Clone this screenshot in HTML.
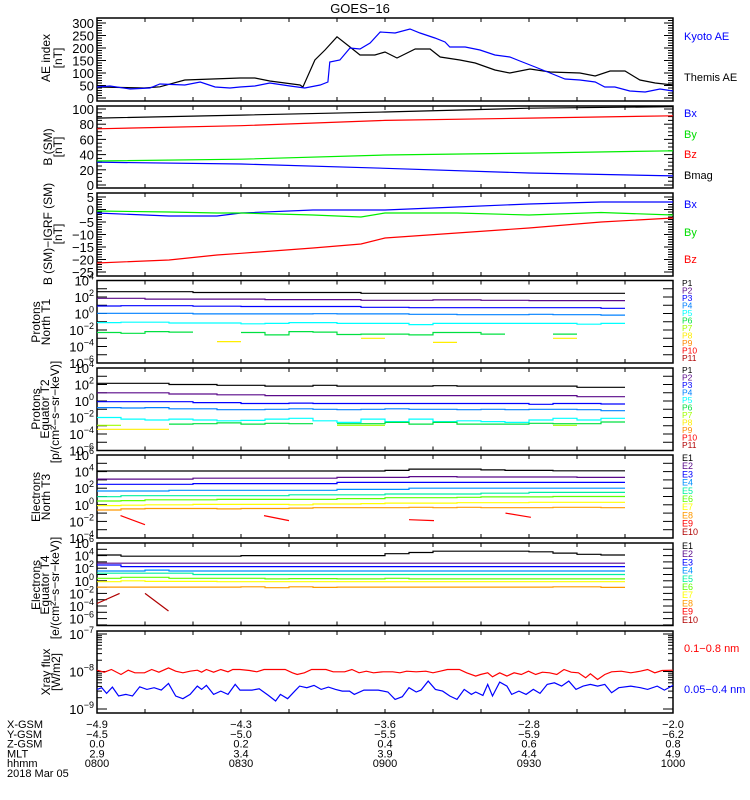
<!DOCTYPE html>
<html><head><meta charset="utf-8"><style>
html,body{margin:0;padding:0;background:#fff;}
svg{display:block;font-family:"Liberation Sans",sans-serif;}
</style></head><body>
<svg id="chart" width="750" height="800" viewBox="0 0 750 800" xmlns="http://www.w3.org/2000/svg">
<rect x="0" y="0" width="750" height="800" fill="#fff"/>
<text x="360" y="13" font-size="13" text-anchor="middle">GOES−16</text>
<g id="g"></g>
</svg>
<script>
// ---------- data ----------
const aeThemisT = [0,9.8,13.1,18.3,29.8,32.9,36.0,42.3,42.9,45.4,47.5,50.0,52.7,54.8,57.9,60.0,62.5,66.3,69.4,71.5,75.6,78.8,82.9,86.0,90.2,94.4,100.6,103.8,106.9,110.0,113.1,116.3,120];
const aeThemisV = [44,40,45,72,80,80,68,52,44,152,192,245,204,172,172,184,160,196,196,164,152,140,112,100,116,104,100,88,108,108,72,60,52];
const aeKyotoT = [0,2.7,6.9,11.0,13.1,18.3,21.5,24.6,27.7,29.8,32.9,36.0,40.2,43.3,46.5,48.1,48.5,50.6,52.7,54.8,56.9,59.0,62.1,65.2,67.3,70.4,72.5,73.5,76.7,79.8,82.9,86.0,88.1,91.3,94.4,97.5,100.6,103.8,105.8,107.9,111.0,114.2,117.3,120];
const aeKyotoV = [44,48,36,40,56,52,64,44,40,44,48,60,48,40,52,64,144,152,200,196,220,264,260,276,260,240,224,204,204,192,172,164,148,124,100,76,72,64,44,44,28,24,36,28];

const bTimes = [0,30,60,90,120];
const bBmag = [88,92,96,101,103];
const bBz = [74,78,85,88,91];
const bBy = [31.6,34,39.5,42,45];
const bBx = [30,27.6,22,15.8,12];

const dTimes = [0,15,25,30,45,55,60,75,90,105,120];
const dBx = [-1.4,-2.6,-2.6,-1.4,-0.2,-0.2,-0.2,1,2.2,3,3];
const dBy = [-0.6,-1.0,-1.4,-1.4,-2.2,-3,-1.4,-1.4,-2.2,-1.2,-2.2];
const dBz = [-21.4,-20.2,-18.2,-17.5,-15.4,-13.8,-11.4,-9.4,-7.4,-5,-3.4];

const p4P1 = [2.64,2.64,2.64,2.64,2.55,2.55,2.55,2.55,2.55,2.55,2.55,2.45,2.45,2.45,2.45,2.45,2.45,2.45,2.45,2.45,2.45,2.45];
const p4P2 = [1.84,1.84,1.75,1.75,1.75,1.75,1.75,1.68,1.68,1.68,1.68,1.6,1.6,1.6,1.65,1.65,1.6,1.6,1.56,1.56,1.56,1.56];
const p4P3 = [0.91,0.95,0.95,0.95,0.88,0.88,0.85,0.85,0.85,0.85,0.85,0.75,0.75,0.7,0.7,0.7,0.7,0.7,0.7,0.7,0.7,0.63];
const p4P4 = [0.02,0.02,0.02,0.02,-0.05,-0.05,-0.05,-0.05,-0.05,-0.02,-0.05,-0.05,-0.05,-0.1,-0.1,-0.15,-0.15,-0.15,-0.1,-0.15,-0.15,-0.2];
const p4P5 = [-1.1,-1.05,-1.05,-1.15,-1.15,-1.15,-1.25,-1.2,-1.1,-1.1,-1.2,-1.2,-1.2,-1.35,-1.2,-1.2,-1.2,-1.2,-1.2,-1.2,-1.3,-1.2];
const p4P6 = [-2.3,-2.4,-2.2,-2.25,null,null,-2.3,-2.6,-2.2,-2.25,-2.55,-2.5,-2.5,-2.6,-2.3,-2.3,-2.5,null,null,-2.5,null,null];
const p4P8 = [null,null,null,null,null,-3.4,null,null,null,null,null,-3.0,null,null,-3.5,null,null,null,null,-3.0,null,null];

const p5P1 = [2.14,2.14,2.14,2.0,2.0,1.9,1.9,1.8,1.8,1.9,1.8,1.8,1.8,1.8,1.85,1.8,1.8,1.8,1.8,1.8,1.66,1.66];
const p5P2 = [1.0,1.0,1.0,0.85,0.85,0.75,0.75,0.65,0.65,0.65,0.65,0.65,0.65,0.65,0.65,0.65,0.65,0.65,0.65,0.65,0.52,0.52];
const p5P3 = [-0.08,-0.08,-0.08,-0.08,-0.2,-0.2,-0.3,-0.3,-0.25,-0.3,-0.3,-0.3,-0.3,-0.3,-0.3,-0.3,-0.3,-0.3,-0.4,-0.3,-0.3,-0.36];
const p5P4 = [-0.8,-0.85,-0.8,-0.95,-0.95,-1.05,-1.05,-1.0,-0.95,-1.0,-1.05,-1.0,-0.95,-1.0,-1.0,-1.05,-1.0,-1.05,-1.0,-1.0,-1.05,-1.17];
const p5P5 = [-2.0,-2.2,-2.3,-2.2,-2.3,-2.4,-2.35,-2.2,-2.1,-2.4,-2.6,-2.2,-2.5,-2.2,-2.5,-2.4,-2.5,-2.6,-2.3,-2.1,-2.3,-2.1];
const p5P6 = [null,null,null,-2.8,-2.75,-2.65,-2.8,-2.7,-2.75,null,-2.75,-2.75,-2.6,-2.8,-2.6,-2.8,-2.8,-2.8,-2.7,-2.75,-2.75,-2.55];
const p5P7 = [-2.95,null,null,null,null,null,null,null,null,null,-2.95,-2.95,null,null,null,null,null,null,null,-2.95,null,null];
const p5P8 = [-3.43,-3.43,-3.43,null,null,null,null,null,null,null,null,null,null,null,null,null,null,null,null,null,null,null];

const e6E1 = [4.07,4.07,4.07,4.07,4.07,4.07,4.07,4.07,4.07,4.07,4.07,4.07,4.15,4.3,4.3,4.3,4.2,4.15,4.15,4.1,4.1,4.1];
const e6E2 = [3.1,3.1,3.1,3.1,3.2,3.2,3.2,3.2,3.2,3.2,3.3,3.3,3.3,3.4,3.4,3.35,3.35,3.35,3.35,3.35,3.3,3.3];
const e6E3 = [2.47,2.47,2.47,2.47,2.55,2.55,2.55,2.55,2.55,2.55,2.7,2.7,2.7,2.7,2.7,2.7,2.7,2.7,2.7,2.7,2.7,2.7];
const e6E4 = [1.66,1.66,1.66,1.75,1.75,1.75,1.75,1.75,1.75,1.75,1.85,1.85,1.85,2.0,2.0,2.0,2.0,2.0,2.0,2.0,2.0,2.0];
const e6E5 = [0.98,1.1,1.1,1.1,1.1,1.1,1.1,1.1,1.2,1.2,1.2,1.2,1.3,1.3,1.3,1.3,1.4,1.4,1.5,1.5,1.5,1.5];
const e6E6 = [0.46,0.5,0.6,0.6,0.6,0.65,0.65,0.65,0.65,0.65,0.75,0.75,0.85,0.85,0.85,0.9,0.95,0.95,0.95,1.0,1.0,1.0];
const e6E7 = [-0.1,-0.05,0.0,0.0,0.05,0.05,0.05,0.05,0.0,0.1,0.1,0.15,0.2,0.2,0.2,0.25,0.25,0.25,0.3,0.3,0.3,0.3];
const e6E8 = [-0.63,-0.5,-0.45,-0.45,-0.45,-0.5,-0.45,-0.45,-0.4,-0.35,-0.35,-0.35,-0.35,-0.3,-0.35,-0.3,-0.35,-0.35,-0.35,-0.3,-0.3,-0.35];
const e6RedT = [4.9,10,34.8,40,65,70.2,85.1,90.4];
const e6RedV = [-1.3,-2.4,-1.3,-1.9,-1.8,-1.9,-1.0,-1.5];

const e7E1 = [4.1,3.9,3.9,3.9,3.9,3.9,4.0,4.0,4.0,4.0,4.0,4.0,4.3,4.5,4.7,4.7,4.7,4.7,4.6,4.4,4.2,4.1];
const e7E2 = [2.8,2.8,2.8,2.8,2.8,2.8,2.8,2.8,2.8,2.8,2.8,2.8,2.8,2.8,2.8,2.8,2.8,2.8,2.8,2.8,2.8,2.8];
const e7E3 = [2.5,2.25,2.25,2.25,2.25,2.25,2.25,2.25,2.25,2.25,2.25,2.25,2.25,2.25,2.25,2.25,2.25,2.25,2.25,2.25,2.25,2.25];
const e7E4 = [1.55,1.55,1.7,1.55,1.55,1.55,1.55,1.55,1.55,1.55,1.55,1.55,1.55,1.55,1.55,1.55,1.55,1.55,1.55,1.55,1.55,1.55];
const e7E5 = [1.2,1.2,1.2,1.2,1.0,1.0,1.0,1.0,1.0,1.0,1.0,1.0,1.0,1.0,1.0,1.0,1.0,1.0,1.0,1.0,1.0,1.0];
const e7E6 = [0.4,0.55,0.55,0.4,0.4,0.4,0.4,0.3,0.35,0.35,0.3,0.3,0.4,0.3,0.3,0.3,0.3,0.3,0.3,0.3,0.3,0.3];
const e7E7 = [-0.15,0.0,-0.1,-0.1,-0.1,-0.15,-0.15,-0.15,-0.15,-0.15,-0.15,-0.15,-0.15,-0.15,-0.15,-0.15,-0.15,-0.15,-0.15,-0.15,-0.15,-0.15];
const e7E8 = [-1.0,-1.0,-1.0,-1.0,-1.0,-1.0,-0.95,-1.1,-0.95,-1.05,-1.0,-1.0,-1.0,-1.0,-1.0,-1.0,-1.0,-1.0,-1.0,-0.95,-0.95,-1.05];
const e7RedT = [0,4.7,10,14.9];
const e7RedV = [-3.6,-2.0,-2.0,-4.8];

const xrLongT = [0,1.5,3.0,5.0,6.5,7.9,9.9,11.4,12.9,14.9,16.4,17.9,19.4,20.9,21.8,22.8,24.3,25.8,27.3,28.3,29.8,31.8,33.3,34.8,37.7,39.2,40.7,41.7,43.2,44.7,47.7,49.2,51.6,53.1,54.6,56.1,57.6,59.6,61.6,63.1,64.5,66.5,68.5,70.0,71.5,73.0,75.5,77.0,78.9,79.9,81.4,82.4,83.9,85.4,86.9,88.4,89.9,91.4,92.8,94.3,95.8,97.3,98.8,100.3,101.8,102.8,104.3,105.8,107.2,109.2,111.2,113.2,114.7,116.2,117.7,120];
const xrLongV = [-7.965,-8.018,-7.947,-8.080,-7.965,-8.035,-8.035,-7.947,-8.018,-7.903,-7.991,-8.035,-7.991,-7.965,-8.018,-7.947,-8.018,-7.947,-8.009,-7.947,-7.947,-7.974,-8.009,-7.947,-7.947,-7.947,-8.035,-8.080,-8.035,-7.947,-7.947,-8.009,-8.009,-7.947,-8.035,-7.991,-8.035,-8.009,-8.009,-8.035,-7.991,-8.009,-7.991,-8.035,-7.991,-7.947,-7.947,-8.035,-8.124,-8.080,-8.035,-8.141,-8.035,-8.124,-8.035,-8.080,-7.991,-8.080,-8.018,-8.035,-8.080,-7.947,-8.018,-8.035,-8.168,-8.062,-8.212,-8.080,-8.009,-7.991,-8.035,-7.991,-7.947,-8.035,-7.974,-7.965];
const xrShortT = [0,1.0,2.0,3.2,4.5,6.0,7.4,8.9,10.4,11.9,13.4,14.9,16.4,17.9,19.4,20.9,21.8,22.8,24.3,25.8,27.3,28.8,29.8,32.3,33.8,35.7,37.2,38.2,39.7,41.2,42.2,43.7,45.2,46.7,48.2,49.7,51.1,52.6,53.6,55.6,58.6,60.6,62.1,63.6,65.0,66.5,67.5,69.0,70.5,72.0,73.5,75.0,76.5,78.0,78.9,80.4,81.4,82.4,83.9,85.4,86.4,87.9,89.4,90.9,92.3,93.8,95.3,96.8,98.3,99.8,101.3,102.8,104.3,105.8,107.2,108.7,111.2,113.2,114.7,116.7,118.2,120];
const xrShortV = [-8.477,-8.433,-8.583,-8.415,-8.654,-8.610,-8.654,-8.407,-8.477,-8.433,-8.495,-8.318,-8.654,-8.725,-8.610,-8.389,-8.477,-8.371,-8.610,-8.522,-8.610,-8.345,-8.495,-8.495,-8.460,-8.637,-8.787,-8.610,-8.725,-8.522,-8.389,-8.433,-8.371,-8.477,-8.415,-8.477,-8.522,-8.522,-8.610,-8.495,-8.495,-8.548,-8.743,-8.672,-8.433,-8.548,-8.495,-8.256,-8.477,-8.522,-8.654,-8.743,-8.477,-8.610,-8.548,-8.637,-8.345,-8.654,-8.283,-8.389,-8.610,-8.522,-8.610,-8.477,-8.583,-8.345,-8.301,-8.389,-8.256,-8.477,-8.389,-8.345,-8.389,-8.345,-8.566,-8.433,-8.389,-8.433,-8.477,-8.389,-8.495,-8.371];

const xGsm = ["-4.9","-4.3","-3.6","-2.8","-2.0"];
const yGsm = ["-4.5","-5.0","-5.5","-5.9","-6.2"];
const zGsm = ["0.0","0.2","0.4","0.6","0.8"];
const mlt = ["2.9","3.4","3.9","4.4","4.9"];
const hhmm = ["0800","0830","0900","0930","1000"];

// ---------- drawing ----------
const NS = "http://www.w3.org/2000/svg";
const G = document.getElementById('g');
const X0 = 97, X1 = 673, TMAX = 120;
const xs = t => X0 + (t / TMAX) * (X1 - X0);
const BIN = 5;
function el(tag, attrs, parent) {
  const e = document.createElementNS(NS, tag);
  for (const k in attrs) e.setAttribute(k, attrs[k]);
  (parent || G).appendChild(e);
  return e;
}
function line(x1, y1, x2, y2, parent) {
  return el('line', {x1, y1, x2, y2, stroke: '#000', 'stroke-width': 1}, parent);
}
function text(x, y, s, opts, parent) {
  const t = el('text', Object.assign({x, y, 'font-size': 12}, opts || {}), parent);
  t.textContent = s;
  return t;
}
function polyline(pts, color, parent) {
  return el('polyline', {points: pts.map(p => p[0].toFixed(1) + ',' + p[1].toFixed(1)).join(' '), fill: 'none', stroke: color, 'stroke-width': 1.2}, parent);
}
function frame(name, top, bot) {
  const g = el('g', {});
  
  
  const r = el('rect', {x: X0, y: top, width: X1 - X0, height: bot - top, fill: 'none', stroke: '#000', 'stroke-width': 1.5}, g);
  
  
  for (let t = 10; t < TMAX; t += 10) {
    const x = xs(t);
    line(x, top, x, top + 4, g);
    line(x, bot, x, bot - 4, g);
  }
  return g;
}
function yTicksLinear(g, top, bot, yf, vmin, vmax, minor, major, labels) {
  for (let v = vmin; v <= vmax + 1e-9; v += minor) {
    const y = yf(v);
    if (y < top - 0.5 || y > bot + 0.5) continue;
    const isMaj = Math.abs(v / major - Math.round(v / major)) < 1e-6;
    const L = isMaj ? 9 : 5;
    line(X0, y, X0 + L, y, g);
    line(X1, y, X1 - L, y, g);
    if (isMaj && labels) {
      const t = text(X0 - 3, y + 5, String(v).replace('-', '−'), {'text-anchor': 'end', 'font-size': 13}, g);
      
      
    }
  }
}
function yTicksLog(g, top, bot, yf, dmin, dmax, labelStep, labelStart) {
  for (let d = dmin; d <= dmax; d++) {
    const y = yf(d);
    if (y < top - 0.5 || y > bot + 0.5) continue;
    line(X0, y, X0 + 10, y, g);
    line(X1, y, X1 - 10, y, g);
    if ((d - labelStart) % labelStep === 0) {
      const t = el('text', {x: X0 - 3, y: y + 5, 'text-anchor': 'end', 'font-size': 13}, g);
      
      
      const a = document.createElementNS(NS, 'tspan'); a.textContent = '10'; t.appendChild(a);
      const b = document.createElementNS(NS, 'tspan'); b.setAttribute('dy', '-6'); b.setAttribute('font-size', '9');
      b.textContent = String(d).replace('-', '−'); t.appendChild(b);
    }
  }
}
function ytitle(x, y, s, name, size) {
  const t = text(x, y, s, {'text-anchor': 'middle', transform: 'rotate(-90 ' + x + ' ' + y + ')', 'font-size': size || 12});
  
  
}
function legend(x, y, s, color, name, size) {
  const t = text(x, y, s, {fill: color, 'font-size': size || 11});
  
  
}
function drawSeries(g, T, V, yf, color, name) {
  const p = polyline(T.map((t, i) => [xs(t), yf(V[i])]), color, g);
  
  
}
function drawSteps(g, V, yf, color, name) {
  let seg = [];
  const flush = () => {
    if (seg.length) {
      const p = polyline(seg, color, g);
      
      
    }
    seg = [];
  };
  V.forEach((v, i) => {
    if (v === null) { flush(); return; }
    const y = yf(v);
    seg.push([xs(i * BIN), y]);
    seg.push([xs((i + 1) * BIN), y]);
  });
  flush();
}
function drawPairs(g, T, V, yf, color, name) {
  for (let i = 0; i + 1 < T.length; i += 2) {
    const p = polyline([[xs(T[i]), yf(V[i])], [xs(T[i + 1]), yf(V[i + 1])]], color, g);
    
    
  }
}
const C = {P1:'#000', P2:'#5a0a8a', P3:'#0000ff', P4:'#0080ff', P5:'#00ffff', P6:'#00e040', P7:'#a0ff00', P8:'#ffee00', P9:'#ff8800', P10:'#ff0000', P11:'#b00000'};
const CE = {E1:'#000', E2:'#5a0a8a', E3:'#0000ff', E4:'#0090ff', E5:'#00f0a0', E6:'#60ff00', E7:'#ffff00', E8:'#ff9900', E9:'#ff0000', E10:'#b00000'};

// Panel 1: AE
{
  const top = 18, bot = 101, yf = v => 98 - v * 0.25;
  const g = frame('ae-index-panel', top, bot);
  yTicksLinear(g, top, bot, yf, 0, 320, 10, 50, true);
  drawSeries(g, aeThemisT, aeThemisV, yf, '#000', 'themis-ae-line');
  drawSeries(g, aeKyotoT, aeKyotoV, yf, '#0000ff', 'kyoto-ae-line');
  ytitle(50, 58, 'AE index', 'ae-y-axis-title');
  ytitle(62, 58, '[nT]', 'ae-y-axis-unit');
  legend(684, 40, 'Kyoto AE', '#0000ff', 'legend-kyoto-ae');
  legend(684, 81, 'Themis AE', '#000', 'legend-themis-ae');
}
// Panel 2: B SM
{
  const top = 106, bot = 188, yf = v => 185 - v * 0.76;
  const g = frame('b-sm-panel', top, bot);
  yTicksLinear(g, top, bot, yf, 0, 100, 5, 20, true);
  drawSeries(g, bTimes, bBmag, yf, '#000', 'bmag-line');
  drawSeries(g, bTimes, bBz, yf, '#ff0000', 'bz-line');
  drawSeries(g, bTimes, bBy, yf, '#00ee00', 'by-line');
  drawSeries(g, bTimes, bBx, yf, '#0000ff', 'bx-line');
  ytitle(52, 147, 'B (SM)', 'b-y-axis-title');
  ytitle(62, 147, '[nT]', 'b-y-axis-unit');
  legend(684, 117, 'Bx', '#0000ff', 'legend-bx');
  legend(684, 138, 'By', '#00dd00', 'legend-by');
  legend(684, 158, 'Bz', '#ff0000', 'legend-bz');
  legend(684, 179, 'Bmag', '#000', 'legend-bmag');
}
// Panel 3: B - IGRF
{
  const top = 193, bot = 276, yf = v => 209.5 - v * 2.5;
  const g = frame('b-minus-igrf-panel', top, bot);
  yTicksLinear(g, top, bot, yf, -25, 5, 1, 5, true);
  drawSeries(g, dTimes, dBx, yf, '#0000ff', 'dbx-line');
  drawSeries(g, dTimes, dBy, yf, '#00ee00', 'dby-line');
  drawSeries(g, dTimes, dBz, yf, '#ff0000', 'dbz-line');
  ytitle(52, 234, 'B (SM)−IGRF (SM)', 'dB-y-axis-title');
  ytitle(62, 234, '[nT]', 'dB-y-axis-unit');
  legend(684, 208, 'Bx', '#0000ff', 'legend-dbx');
  legend(684, 236, 'By', '#00dd00', 'legend-dby');
  legend(684, 263, 'Bz', '#ff0000', 'legend-dbz');
}
// Panel 4: Protons North T1
{
  const top = 280.5, bot = 363, yf = v => top + (4 - v) * 8.25;
  const g = frame('protons-north-t1-panel', top, bot);
  yTicksLog(g, top, bot, yf, -6, 4, 2, 4);
  drawSteps(g, p4P1, yf, C.P1, 'p1-line');
  drawSteps(g, p4P2, yf, C.P2, 'p2-line');
  drawSteps(g, p4P3, yf, C.P3, 'p3-line');
  drawSteps(g, p4P4, yf, C.P4, 'p4-line');
  drawSteps(g, p4P5, yf, C.P5, 'p5-line');
  drawSteps(g, p4P6, yf, C.P6, 'p6-line');
  drawSteps(g, p4P8, yf, C.P8, 'p8-line');
  ytitle(40, 322, 'Protons', 'protons-t1-title');
  ytitle(50, 322, 'North T1', 'protons-t1-subtitle');
  Object.keys(C).forEach((k, i) => legend(682, 286 + i * 7.5, k, C[k], 'legend-t1-' + k.toLowerCase(), 8.5));
}
// Panel 5: Protons Equator T2
{
  const top = 368, bot = 450.5, yf = v => top + (4 - v) * 8.25;
  const g = frame('protons-equator-t2-panel', top, bot);
  yTicksLog(g, top, bot, yf, -6, 4, 2, 4);
  drawSteps(g, p5P1, yf, C.P1, 'p1-line');
  drawSteps(g, p5P2, yf, C.P2, 'p2-line');
  drawSteps(g, p5P3, yf, C.P3, 'p3-line');
  drawSteps(g, p5P4, yf, C.P4, 'p4-line');
  drawSteps(g, p5P5, yf, C.P5, 'p5-line');
  drawSteps(g, p5P6, yf, C.P6, 'p6-line');
  drawSteps(g, p5P7, yf, C.P7, 'p7-line');
  drawSteps(g, p5P8, yf, C.P8, 'p8-line');
  ytitle(40, 409, 'Protons', 'protons-t2-title');
  ytitle(49, 409, 'Equator T2', 'protons-t2-subtitle');
  ytitle(59, 412, '[p/(cm²−s−sr−keV)]', 'protons-flux-unit');
  Object.keys(C).forEach((k, i) => legend(682, 373 + i * 7.5, k, C[k], 'legend-t2-' + k.toLowerCase(), 8.5));
}
// Panel 6: Electrons North T3
{
  const top = 455, bot = 538, yf = v => top + (6 - v) * 8.3;
  const g = frame('electrons-north-t3-panel', top, bot);
  yTicksLog(g, top, bot, yf, -4, 6, 2, 6);
  [e6E1, e6E2, e6E3, e6E4, e6E5, e6E6, e6E7, e6E8].forEach((arr, i) => drawSteps(g, arr, yf, CE['E' + (i + 1)], 'e' + (i + 1) + '-line'));
  drawPairs(g, e6RedT, e6RedV, yf, '#ff0000', 'e9-segment');
  ytitle(40, 497, 'Electrons', 'electrons-t3-title');
  ytitle(50, 497, 'North T3', 'electrons-t3-subtitle');
  Object.keys(CE).forEach((k, i) => legend(682, 461 + i * 8.2, k, CE[k], 'legend-t3-' + k.toLowerCase(), 9));
}
// Panel 7: Electrons Equator T4
{
  const top = 543, bot = 625.5, yf = v => top + (6 - v) * 6.3;
  const g = frame('electrons-equator-t4-panel', top, bot);
  yTicksLog(g, top, bot, yf, -7, 6, 2, 6);
  [e7E1, e7E2, e7E3, e7E4, e7E5, e7E6, e7E7, e7E8].forEach((arr, i) => drawSteps(g, arr, yf, CE['E' + (i + 1)], 'e' + (i + 1) + '-line'));
  drawPairs(g, e7RedT, e7RedV, yf, '#b00000', 'e10-segment');
  ytitle(40, 585, 'Electrons', 'electrons-t4-title');
  ytitle(49, 585, 'Equator T4', 'electrons-t4-subtitle');
  ytitle(59, 588, '[e/(cm²−s−sr−keV)]', 'electrons-flux-unit');
  Object.keys(CE).forEach((k, i) => legend(682, 549 + i * 8.2, k, CE[k], 'legend-t4-' + k.toLowerCase(), 9));
}
// Panel 8: X-ray
{
  const top = 631, bot = 713, yf = v => 634 + (-7 - v) * 37.5;
  const g = frame('xray-flux-panel', top, bot);
  for (let d = -9; d <= -7; d++) {
    for (let m = 1; m <= 9; m++) {
      const y = yf(d + Math.log10(m));
      if (y < top - 0.5 || y > bot + 0.5) continue;
      const L = m === 1 ? 10 : 5;
      line(X0, y, X0 + L, y, g); line(X1, y, X1 - L, y, g);
    }
    const t = el('text', {x: X0 - 3, y: yf(d) + 5, 'text-anchor': 'end', 'font-size': 13}, g);
    
    
    const a = document.createElementNS(NS, 'tspan'); a.textContent = '10'; t.appendChild(a);
    const b = document.createElementNS(NS, 'tspan'); b.setAttribute('dy', '-6'); b.setAttribute('font-size', '9');
    b.textContent = String(d).replace('-', '−'); t.appendChild(b);
  }
  drawSeries(g, xrLongT, xrLongV, yf, '#ff0000', 'xray-long-line');
  drawSeries(g, xrShortT, xrShortV, yf, '#0000ff', 'xray-short-line');
  ytitle(50, 672, 'Xray flux', 'xray-y-axis-title');
  ytitle(60, 672, '[W/m2]', 'xray-y-axis-unit');
  legend(684, 652, '0.1−0.8 nm', '#ff0000', 'legend-xray-long');
  legend(684, 693, '0.05−0.4 nm', '#0000ff', 'legend-xray-short');
}
// Bottom annotation
{
  const rows = [['X-GSM', xGsm], ['Y-GSM', yGsm], ['Z-GSM', zGsm], ['MLT', mlt], ['hhmm', hhmm]];
  rows.forEach((r, ri) => {
    const y = 728 + ri * 9.8;
    const lab = text(7, y, r[0], {'font-size': 11});
    
    
    r[1].forEach((v, i) => {
      const t = text(xs(i * 30), y, v.replace('-', '−'), {'text-anchor': 'middle', 'font-size': 11});
      
      
    });
  });
  const d = text(7, 777, '2018 Mar 05', {'font-size': 11});
  
  
}
</script>
</body></html>
